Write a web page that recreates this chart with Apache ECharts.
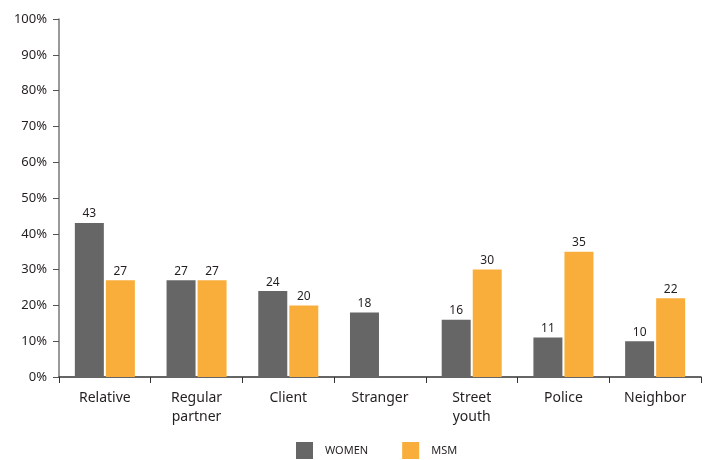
<!DOCTYPE html>
<html>
<head>
<meta charset="utf-8">
<script src="https://cdn.jsdelivr.net/npm/echarts@6/dist/echarts.min.js"></script>
<style>html,body{margin:0;padding:0;background:#fff}#c{width:709px;height:460px}</style>
</head>
<body>
<div id="c"></div>
<script>
const categories = ['Relative', 'Regular\npartner', 'Client', 'Stranger', 'Street\nyouth', 'Police', 'Neighbor'];
const women = [43, 27, 24, 18, 16, 11, 10];
const msm = [27, 27, 20, 0, 30, 35, 22];
const yTicks = [0, 10, 20, 30, 40, 50, 60, 70, 80, 90, 100];

const font = '"Noto Sans", "Open Sans", sans-serif';
const chart = echarts.init(document.getElementById('c'), null, {renderer: 'canvas'});
const labelCfg = {
  show: true, position: 'top', distance: 3, color: '#231f20', fontSize: 12, fontFamily: font,
  formatter: p => p.value === 0 ? '' : p.value
};
chart.setOption({
  animation: false,
  grid: {left: 59, right: 8, top: 19, bottom: 83, containLabel: false},
  legend: {
    top: 442, left: 296, padding: 0, itemWidth: 17, itemHeight: 17, itemGap: 34,
    textStyle: {fontSize: 11, color: '#231f20', fontFamily: font, padding: [0,0,0,7]},
    icon: 'rect',
    data: ['WOMEN', 'MSM']
  },
  xAxis: {
    type: 'category', data: categories, boundaryGap: true,
    axisLine: {lineStyle: {color: '#333', width: 1.5}},
    axisTick: {show: true, length: 6, lineStyle: {color: '#333'}},
    axisLabel: {fontSize: 14, color: '#231f20', fontFamily: font, margin: 12, lineHeight: 19}
  },
  yAxis: {
    type: 'value', min: 0, max: 100, interval: 10,
    axisLine: {show: true, lineStyle: {color: '#777', width: 1.5}},
    axisTick: {show: true, length: 6, lineStyle: {color: '#555'}},
    splitLine: {show: false},
    axisLabel: {fontSize: 13, color: '#231f20', fontFamily: font, margin: 12,
      formatter: v => yTicks.includes(v) ? v + '%' : ''}
  },
  series: [
    {name: 'WOMEN', type: 'bar', data: women, barWidth: 29, barGap: '7%',
      itemStyle: {color: '#666666'}, label: labelCfg},
    {name: 'MSM', type: 'bar', data: msm, barWidth: 29,
      itemStyle: {color: '#F9AE3B'}, label: labelCfg}
  ]
});
</script>
</body>
</html>
